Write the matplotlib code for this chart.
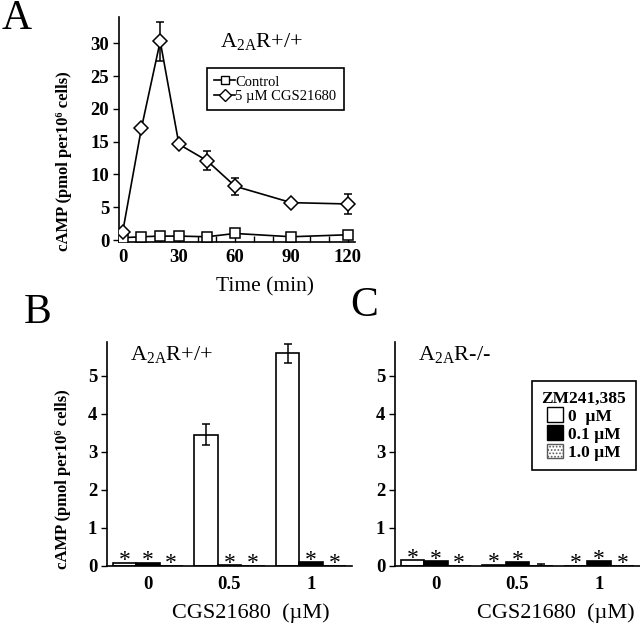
import matplotlib
matplotlib.use("Agg")
import matplotlib.pyplot as plt
import numpy as np
from matplotlib.patches import Patch
from matplotlib.lines import Line2D

plt.rcParams['font.family'] = ['Liberation Serif', 'DejaVu Serif']
plt.rcParams['mathtext.fontset'] = 'custom'
plt.rcParams['mathtext.rm'] = 'Liberation Serif'
plt.rcParams['hatch.linewidth'] = 0.8

# ---------------- data ----------------
time_min = [0, 10, 20, 30, 45, 60, 90, 120]
control = [0.35, 0.5, 0.6, 0.6, 0.5, 1.0, 0.5, 0.8]
cgs = [1.3, 17.1, 30.3, 14.6, 12.1, 8.2, 5.7, 5.5]
cgs_err = [0, 0, 3.0, 0, 1.4, 1.3, 0, 1.5]
time_ticks = [0, 30, 60, 90, 120]
camp_ticks_a = [0, 5, 10, 15, 20, 25, 30]

cgs_doses = ["0", "0.5", "1"]
zm_labels = ["0  µM", "0.1 µM", "1.0 µM"]
# panel B (A2AR+/+): rows = ZM 0, 0.1, 1.0 ; columns = CGS dose
b_vals = [[0.08, 3.45, 5.58], [0.08, 0.02, 0.10], [0.0, 0.0, 0.0]]
b_err = [[0, 0.28, 0.24], [0, 0, 0], [0, 0, 0]]
b_star = [[True, False, False], [True, True, True], [True, True, True]]
# panel C (A2AR-/-)
c_vals = [[0.15, 0.03, 0.0], [0.13, 0.10, 0.12], [0.0, 0.0, 0.0]]
c_err = [[0, 0, 0], [0, 0, 0], [0, 0.06, 0]]
c_star = [[True, True, True], [True, True, True], [True, False, True]]
camp_ticks_bc = [0, 1, 2, 3, 4, 5]

fig = plt.figure(figsize=(6.4, 6.26), dpi=100)
W, H = 640, 626

def ax_px(l, t, r, b):
    return fig.add_axes([l / W, 1 - b / H, (r - l) / W, (b - t) / H])

TICK_FS = 13.5

# ---------------- Panel A ----------------
axA = ax_px(119, 17, 355, 242)
axA.plot(time_min, control, '-', color='black', lw=1.2, marker='s', ms=7,
         mfc='white', mec='black', mew=1.1, zorder=3)
axA.errorbar(time_min, cgs, yerr=cgs_err, fmt='-', color='black', lw=1.2,
             marker='D', ms=7, mfc='white', mec='black', mew=1.1,
             ecolor='black', elinewidth=1.1, capsize=3, capthick=1.1,
             zorder=4)
axA.set_xlim(-2, 124)
axA.set_ylim(-0.3, 34)
axA.set_xticks(time_ticks)
axA.set_xticks(np.arange(0, 121, 10), minor=True)
axA.set_yticks(camp_ticks_a)
axA.tick_params(axis='x', which='both', direction='in', length=4, width=1, pad=5)
axA.tick_params(axis='y', direction='out', length=4, width=1, pad=3)
for lab in axA.get_xticklabels() + axA.get_yticklabels():
    lab.set_fontsize(TICK_FS); lab.set_fontweight('bold')
for s in ['top', 'right']:
    axA.spines[s].set_visible(False)
for s in ['left', 'bottom']:
    axA.spines[s].set_linewidth(1.2)
axA.set_ylabel('cAMP (pmol per10⁶ cells)', fontsize=12, fontweight='bold')
axA.yaxis.set_label_coords(-0.2, 0.36)
axA.text(0.62, -0.2, 'Time (min)', transform=axA.transAxes, ha='center',
         va='center', fontsize=15.5)
axA.text(0.43, 0.89, r'A$_{\mathregular{2A}}$R+/+', transform=axA.transAxes,
         fontsize=16, va='center')
legA_handles = [Line2D([], [], color='black', lw=1.2, marker='s', ms=6,
                       mfc='white', mec='black', mew=1.0),
                Line2D([], [], color='black', lw=1.2, marker='D', ms=6,
                       mfc='white', mec='black', mew=1.0)]
leg = axA.legend(legA_handles, ['Control', '5 µM CGS21680'], loc='upper left',
                 bbox_to_anchor=(207 / W, 1 - 68 / H),
                 bbox_transform=fig.transFigure, frameon=True, fancybox=False,
                 edgecolor='black', framealpha=1, fontsize=10.5, handlelength=1.4,
                 handletextpad=0.05, borderpad=0.5, labelspacing=0.1,
                 borderaxespad=0)
leg.get_frame().set_linewidth(1.2)
fig.text(2 / W, 1 - 19 / H, 'A', fontsize=30, va='center', ha='left')

# ---------------- Panels B and C ----------------
bar_w = 0.287
fills = [dict(facecolor='white', hatch=None),
         dict(facecolor='black', hatch=None),
         dict(facecolor='white', hatch='.....')]

def bar_panel(ax, vals, errs, stars, title, xlabel_x):
    x = np.arange(len(cgs_doses))
    for k in range(3):
        pos = x + (k - 1) * bar_w
        ax.bar(pos, vals[k], width=bar_w, edgecolor='black', linewidth=1.2,
               facecolor=fills[k]['facecolor'], hatch=fills[k]['hatch'],
               zorder=2)
        for j in range(len(x)):
            if errs[k][j] > 0:
                ax.errorbar(pos[j], vals[k][j], yerr=errs[k][j], fmt='none',
                            ecolor='black', elinewidth=1.1, capsize=3,
                            capthick=1.1, zorder=3)
            if stars[k][j]:
                ax.annotate('*', (pos[j], vals[k][j]), xytext=(0, -2.5),
                            textcoords='offset points', ha='center',
                            va='baseline', fontsize=17)
    ax.set_xlim(-0.5, 2.5)
    ax.set_ylim(0, 5.88)
    ax.set_xticks(x)
    ax.set_xticklabels(cgs_doses)
    ax.set_yticks(camp_ticks_bc)
    ax.tick_params(axis='x', length=0, pad=7)
    ax.tick_params(axis='y', direction='out', length=4, width=1, pad=3)
    for lab in ax.get_xticklabels() + ax.get_yticklabels():
        lab.set_fontsize(TICK_FS); lab.set_fontweight('bold')
    for s in ['top', 'right']:
        ax.spines[s].set_visible(False)
    for s in ['left', 'bottom']:
        ax.spines[s].set_linewidth(1.2)
    ax.text(xlabel_x, -0.21, 'CGS21680  (µM)', transform=ax.transAxes,
            ha='center', va='center', fontsize=16)
    ax.text(0.095, 0.94, title, transform=ax.transAxes, fontsize=16,
            va='center')

axB = ax_px(107, 342, 352, 566)
bar_panel(axB, b_vals, b_err, b_star, r'A$_{\mathregular{2A}}$R+/+', 0.585)
axB.set_ylabel('cAMP (pmol per10⁶ cells)', fontsize=12, fontweight='bold')
axB.yaxis.set_label_coords(-0.145, 0.39)
fig.text(24 / W, 1 - 313 / H, 'B', fontsize=30, va='center', ha='left')

axC = ax_px(395, 342, 640, 566)
bar_panel(axC, c_vals, c_err, c_star, r'A$_{\mathregular{2A}}$R-/-', 0.655)
fig.text(350 / W, 1 - 306 / H, 'C', fontsize=30, va='center', ha='left')

handles = [Patch(facecolor='white', edgecolor='black', linewidth=1.0),
           Patch(facecolor='black', edgecolor='black', linewidth=1.0),
           Patch(facecolor='white', edgecolor='0.35', hatch='.....', linewidth=1.0)]
legC = axC.legend(handles, zm_labels, title='ZM241,385', loc='upper left',
                  bbox_to_anchor=(532 / W, 1 - 381 / H),
                  bbox_transform=fig.transFigure, frameon=True, fancybox=False,
                  edgecolor='black', framealpha=1,
                  prop=dict(size=12.5, weight='bold'),
                  title_fontproperties=dict(size=12.5, weight='bold'),
                  handlelength=0.9, handleheight=0.9, handletextpad=0.3,
                  labelspacing=0.05, borderpad=0.55, borderaxespad=0)
legC.get_frame().set_linewidth(1.2)

fig.savefig('out.png', dpi=100)
